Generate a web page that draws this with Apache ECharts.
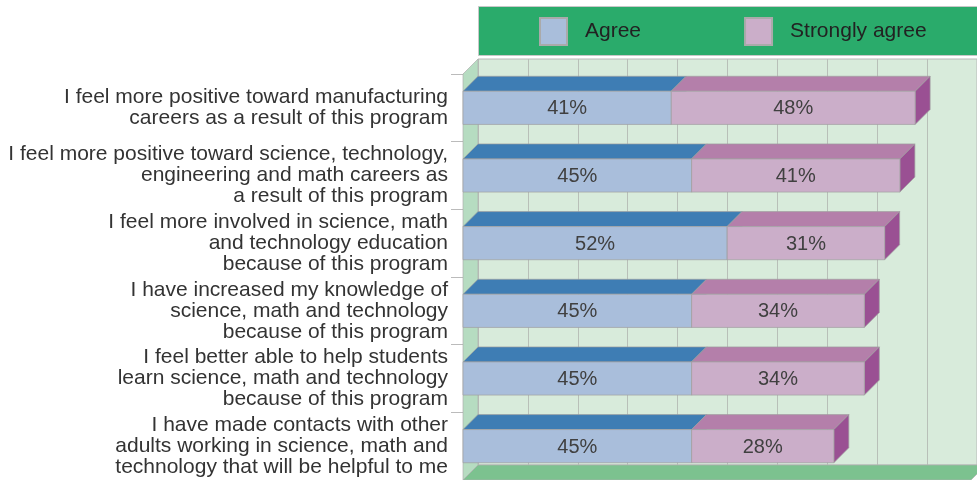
<!DOCTYPE html>
<html>
<head>
<meta charset="utf-8">
<script src="https://cdn.jsdelivr.net/npm/echarts@6/dist/echarts.min.js"></script>
<style>
  html, body { margin: 0; padding: 0; background: #fff; }
  #draw { width: 977px; height: 480px; }
</style>
</head>
<body>
<div id="draw"></div>
<script>
const categories = [
  'I feel more positive toward manufacturing\ncareers as a result of this program',
  'I feel more positive toward science, technology,\nengineering and math careers as\na result of this program',
  'I feel more involved in science, math\nand technology education\nbecause of this program',
  'I have increased my knowledge of\nscience, math and technology\nbecause of this program',
  'I feel better able to help students\nlearn science, math and technology\nbecause of this program',
  'I have made contacts with other\nadults working in science, math and\ntechnology that will be helpful to me'
];
const agree = [41, 45, 52, 45, 45, 45];
const stronglyAgree = [48, 41, 31, 34, 34, 28];

const DEPTH = 15; // 3d offset px
const FONT = '"Liberation Sans", Arial, sans-serif';

// [category, start, end, value]
const agreeData = agree.map((v, i) => [i, 0, v, v]);
const strongData = stronglyAgree.map((v, i) => [i, agree[i], agree[i] + v, v]);

function barRender(front, top, side) {
  return function (params, api) {
    const cat = api.value(0);
    const p0 = api.coord([api.value(1), cat]);
    const p1 = api.coord([api.value(2), cat]);
    const h = api.size([0, 1])[1] * 0.49;
    const y0 = p0[1] - h / 2, y1 = p0[1] + h / 2;
    const L = p0[0], R = p1[0], d = DEPTH;
    const stroke = { stroke: '#a0a0a0', lineWidth: 0.7 };
    return {
      type: 'group',
      children: [
        { type: 'polygon', shape: { points: [[L, y0], [L + d, y0 - d], [R + d, y0 - d], [R, y0]] },
          style: Object.assign({ fill: top }, stroke) },
        { type: 'polygon', shape: { points: [[R, y0], [R + d, y0 - d], [R + d, y1 - d], [R, y1]] },
          style: Object.assign({ fill: side }, stroke) },
        { type: 'rect', shape: { x: L, y: y0, width: R - L, height: h },
          style: Object.assign({ fill: front }, stroke) },
        { type: 'text', style: { text: api.value(3) + '%', x: (L + R) / 2, y: p0[1] + 1,
          align: 'center', verticalAlign: 'middle', fill: '#404040', fontSize: 20, fontFamily: FONT } }
      ]
    };
  };
}

// left wall + floor of the box, from the front grid rect
function frameRender(params, api) {
  const c = params.coordSys, d = DEPTH;
  const x0 = c.x, x1 = c.x + c.width, y0 = c.y, y1 = c.y + c.height;
  return {
    type: 'group',
    children: [
      { type: 'polygon', shape: { points: [[x0, y0], [x0 + d, y0 - d], [x0 + d, y1 - d], [x0, y1]] },
        style: { fill: '#b6dcc1', stroke: '#b0b0b0', lineWidth: 0.7 } },
      { type: 'polygon', shape: { points: [[x0, y1], [x0 + d, y1 - d], [x1 + d, y1 - d], [x1, y1]] },
        style: { fill: '#7cc28f', stroke: '#b0b0b0', lineWidth: 0.7 } }
    ]
  };
}

let myChart = echarts.init(document.getElementById('draw'));
myChart.setOption({
  animation: false,
  textStyle: { fontFamily: FONT },
  graphic: [{
    type: 'rect', left: 478, top: 6, z: -1,
    shape: { width: 520, height: 49 },
    style: { fill: '#2aab6b', stroke: '#c8c8c8', lineWidth: 1 }
  }],
  legend: {
    data: ['Agree', 'Strongly agree'],
    left: 539, top: 17, padding: 0,
    icon: 'rect',
    itemWidth: 27, itemHeight: 27, itemGap: 103,
    textStyle: { fontSize: 21, color: '#222', padding: [0, 0, 0, 13], fontFamily: FONT }
  },
  grid: [
    { left: 463, top: 74, right: 6, bottom: 0 },
    { left: 478, top: 59, right: -9, bottom: 15, show: true,
      backgroundColor: '#d8ebdb', borderColor: '#b8b8b8', borderWidth: 1 }
  ],
  xAxis: [
    { gridIndex: 0, type: 'value', min: 0, max: 100, interval: 10,
      axisLine: { show: false }, axisTick: { show: false }, axisLabel: { show: false }, splitLine: { show: false } },
    { gridIndex: 1, type: 'value', min: 0, max: 100, interval: 10,
      axisLine: { show: false }, axisTick: { show: false }, axisLabel: { show: false },
      splitLine: { show: true, lineStyle: { color: '#b8bfb8', width: 1 } } }
  ],
  yAxis: [
    { gridIndex: 0, type: 'category', data: categories, inverse: true,
      axisLine: { show: true, lineStyle: { color: '#bbb' } },
      axisTick: { show: true, length: 12, lineStyle: { color: '#bbb' } },
      axisLabel: { interval: 0, fontSize: 21, lineHeight: 21, color: '#333', margin: 15, fontFamily: FONT } },
    { gridIndex: 1, type: 'category', data: categories, inverse: true, show: false }
  ],
  series: [
    { type: 'custom', name: 'frame', xAxisIndex: 0, yAxisIndex: 0, data: [[0, 0, 0]],
      encode: { x: 1, y: 0 }, renderItem: frameRender, silent: true, z: 1 },
    { type: 'custom', name: 'Agree', xAxisIndex: 0, yAxisIndex: 0, data: agreeData,
      encode: { x: [1, 2], y: 0 }, z: 2,
      itemStyle: { color: '#a9bedb', borderColor: '#aaa', borderWidth: 0.5 },
      renderItem: barRender('#a9bedb', '#3e7db4', '#2f6a9e') },
    { type: 'custom', name: 'Strongly agree', xAxisIndex: 0, yAxisIndex: 0, data: strongData,
      encode: { x: [1, 2], y: 0 }, z: 3,
      itemStyle: { color: '#cbaec9', borderColor: '#aaa', borderWidth: 0.5 },
      renderItem: barRender('#cbaec9', '#b47faa', '#9a5093') }
  ]
});
</script>
</body>
</html>
